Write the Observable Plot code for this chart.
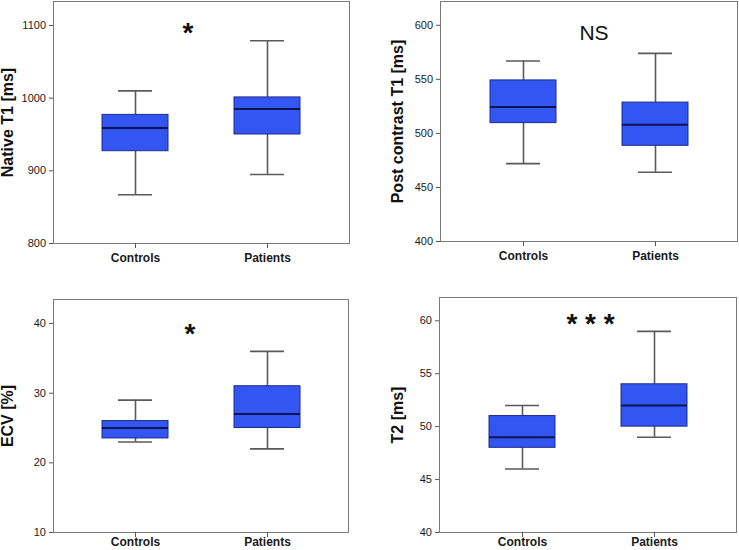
<!DOCTYPE html>
<html>
<head>
<meta charset="utf-8">
<script src="https://cdn.jsdelivr.net/npm/d3@7"></script>
<script src="https://cdn.jsdelivr.net/npm/@observablehq/plot@0.6"></script>
<style>
  html, body { margin: 0; padding: 0; background: #fff; }
  #wrap { position: relative; width: 739px; height: 550px; overflow: hidden; background: #fff; }
  .panel { position: absolute; }
</style>
</head>
<body>
<div id="wrap"></div>
<script>
// ---- Data (five-number summaries: low whisker, Q1, median, Q3, high whisker) ----
const groups = ["Controls", "Patients"];
const stats = ["low", "q1", "median", "q3", "high"];

const nativeT1Controls = [867, 927, 959, 977, 1010];
const nativeT1Patients = [895, 950, 985, 1001, 1079];
const nativeT1Ticks = [800, 900, 1000, 1100];

const postT1Controls = [472, 509.5, 524.5, 549, 567];
const postT1Patients = [464, 488.5, 508, 528.5, 574];
const postT1Ticks = [400, 450, 500, 550, 600];

const ecvControls = [23, 23.5, 25, 26, 29];
const ecvPatients = [22, 25, 27, 31, 36];
const ecvTicks = [10, 20, 30, 40];

const t2Controls = [46, 48, 49, 51, 52];
const t2Patients = [49, 50, 52, 54, 59];
const t2Ticks = [40, 45, 50, 55, 60];

const labels = ["Native T1 [ms]", "Post contrast T1 [ms]", "ECV [%]", "T2 [ms]"];
const significance = ["*", "NS", "*", "* * *"];

function rows(c, p) {
  return [c, p].map((arr, i) => {
    const o = {group: groups[i]};
    stats.forEach((k, j) => o[k] = arr[j]);
    return o;
  });
}

const FONT = "Arial, 'Liberation Sans', Helvetica, sans-serif";

const panels = [
  {left: 0, top: 0, width: 370, mL: 53, mR: 21, mT: 1, mB: 32, domain: [800, 1133], xPad: 5,
   data: rows(nativeT1Controls, nativeT1Patients), ticks: nativeT1Ticks, label: labels[0], labelDx: -46,
   sig: significance[0], sigY: 1090, sigDx: -13.5, sigSize: 28, sigWeight: "bold"},
  {left: 370, top: 0, width: 369, mL: 70, mR: 2, mT: 1, mB: 34, domain: [400, 622], xPad: 5,
   data: rows(postT1Controls, postT1Patients), ticks: postT1Ticks, label: labels[1], labelDx: -43,
   sig: significance[1], sigY: 593, sigDx: 5, sigSize: 21, sigWeight: "normal"},
  {left: 0, top: 275, width: 370, mL: 53, mR: 22, mT: 24, mB: 18, domain: [10, 43.45], xPad: 0,
   data: rows(ecvControls, ecvPatients), ticks: ecvTicks, label: labels[2], labelDx: -46,
   sig: significance[2], sigY: 38.45, sigDx: -11, sigSize: 28, sigWeight: "bold"},
  {left: 370, top: 275, width: 369, mL: 69, mR: 3, mT: 22, mB: 18, domain: [40, 62.2], xPad: 0,
   data: rows(t2Controls, t2Patients), ticks: t2Ticks, label: labels[3], labelDx: -42,
   sig: significance[3], sigY: 59.7, sigDx: 2.5, sigSize: 28, sigWeight: "bold"}
];

const wrap = document.getElementById("wrap");

for (const p of panels) {
  const chart = Plot.plot({
    width: p.width,
    height: 275,
    marginLeft: p.mL,
    marginRight: p.mR,
    marginTop: p.mT,
    marginBottom: p.mB,
    style: {fontFamily: FONT, background: "transparent", color: "#1a1a1a", overflow: "visible"},
    x: {domain: groups, paddingInner: 0.5, paddingOuter: 0.367, align: 0.5, label: null},
    y: {domain: p.domain, label: null},
    marks: [
      Plot.frame({stroke: "#7a7a7a", strokeWidth: 1}),
      Plot.axisX({tickSize: 5, tickPadding: p.xPad, fontSize: 12, fontWeight: "bold", label: null,
        stroke: "#555", fill: "#1a1a1a"}),
      Plot.axisY({ticks: p.ticks, tickFormat: d3.format("d"), tickSize: 4, tickPadding: 3.5, fontSize: 11,
        label: null, stroke: "#555", fill: "#1a1a1a"}),
      // whiskers
      Plot.ruleX(p.data, {x: "group", y1: "low", y2: "q1", stroke: "#5a5a5a", strokeWidth: 1.6}),
      Plot.ruleX(p.data, {x: "group", y1: "q3", y2: "high", stroke: "#5a5a5a", strokeWidth: 1.6}),
      Plot.tickY(p.data, {x: "group", y: "low", inset: 16, stroke: "#5a5a5a", strokeWidth: 1.6}),
      Plot.tickY(p.data, {x: "group", y: "high", inset: 16, stroke: "#5a5a5a", strokeWidth: 1.6}),
      // boxes
      Plot.barY(p.data, {x: "group", y1: "q1", y2: "q3", fill: "#3355f2", stroke: "#1d2c8c", strokeWidth: 1}),
      Plot.tickY(p.data, {x: "group", y: "median", stroke: "#0a1552", strokeWidth: 2}),
      // significance annotation
      Plot.text([p.sig], {y: () => p.sigY, frameAnchor: "top", dx: p.sigDx, text: d => d,
        fontSize: p.sigSize, fontWeight: p.sigWeight, fill: "#111", lineAnchor: "middle", textAnchor: "middle"}),
      // y label
      Plot.text([p.label], {frameAnchor: "left", dx: p.labelDx, rotate: -90, text: d => d,
        fontSize: 16, fontWeight: "bold", fill: "#111", lineAnchor: "middle", textAnchor: "middle"})
    ]
  });
  chart.classList.add("panel");
  chart.style.left = p.left + "px";
  chart.style.top = p.top + "px";
  wrap.appendChild(chart);
}
</script>
</body>
</html>
